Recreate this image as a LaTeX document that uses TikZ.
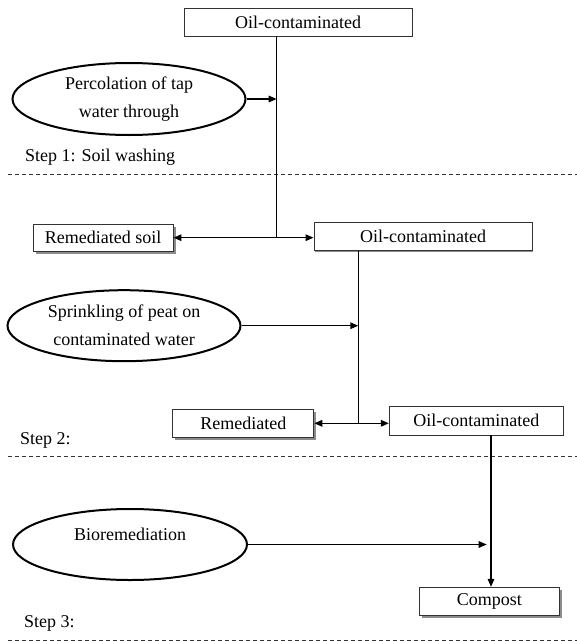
\documentclass[tikz,border=0pt]{standalone}
\usepackage{fontspec}
\setmainfont{Liberation Serif}
\usetikzlibrary{shapes.geometric,arrows.meta,shadows}
\begin{document}
\begin{tikzpicture}[x=1pt,y=-1pt,
  every node/.style={font=\fontsize{18}{28}\selectfont, inner sep=0pt},
  box/.style={draw=black!80, line width=0.9pt, fill=white, minimum height=#1},
  box/.default=28pt,
  sbox/.style={box, drop shadow={shadow xshift=2.5pt, shadow yshift=-2.5pt, fill=black!45, opacity=1}},
  lbox/.style={box, drop shadow={shadow xshift=1pt, shadow yshift=-1pt, fill=black!45, opacity=1}},
  oval/.style={ellipse, draw=black, line width=2pt, align=center, minimum width=233pt, minimum height=72pt},
  conn/.style={line width=1.5pt},
  arr/.style={conn, -{Triangle[length=8pt,width=6.5pt]}},
  sep/.style={dash pattern=on 4pt off 3pt, line width=0.8pt, black!80},
  lab/.style={anchor=west}]
\useasboundingbox (0,0) rectangle (577,642);
% Step 1
\node[lbox, minimum width=228pt, minimum height=27.5pt] (o1) at (298,22.3) {Oil-contaminated};
\node[oval] (e1) at (129,99) {Percolation of tap\\water through};
\coordinate (t1) at (276.7,36);
\coordinate (j2) at (276.7,237.7);
\node[lab] (s1) at (25,157) {Step 1: Soil washing};
\coordinate (d1a) at (8,174); \coordinate (d1b) at (577,174);
\draw[sep] (d1a) -- (d1b);
\draw[conn] (t1) -- (j2);
\draw[arr] (e1.east) -- (e1.east -| t1);
% Step 2
\node[sbox, minimum width=140pt, minimum height=27pt] (rs) at (103,237.5) {Remediated soil};
\node[lbox, minimum width=218pt] (o2) at (423,236.7) {Oil-contaminated};
\draw[arr] (j2) -- (rs.east |- j2);
\draw[arr] (j2) -- (o2.west |- j2);
\coordinate (t2) at (358.3,250.7);
\coordinate (j4) at (358.3,423.3);
\node[oval, minimum height=71pt] (e2) at (124,325.7) {Sprinkling of peat on\\contaminated water};
\draw[conn] (t2) -- (j4);
\draw[arr] (e2.east) -- (e2.east -| t2);
\node[sbox, minimum width=141pt] (rem) at (243.3,423.3) {Remediated};
\node[lbox, minimum width=174pt, minimum height=28.3pt] (o3) at (476.3,420.8) {Oil-contaminated};
\draw[arr] (j4) -- (rem.east |- j4);
\draw[arr] (j4) -- (o3.west |- j4);
\node[lab] (s2) at (20,440) {Step 2:};
\coordinate (d2a) at (8,456.5); \coordinate (d2b) at (577,456.5);
\draw[sep] (d2a) -- (d2b);
% Step 3
\node[oval, minimum width=234pt, minimum height=71pt] (e3) at (130,544.5) {};
\node (t3) at (130,534) {Bioremediation};
\node[sbox, minimum width=140pt, minimum height=27.7pt] (cp) at (489.3,601.2) {Compost};
\coordinate (t4) at (491,435);
\coordinate (j5) at (486.7,544.5);
\draw[arr] (t4) -- (t4 |- cp.north);
\draw[arr] (e3.east) -- (j5);
\node[lab] (s3) at (24,623) {Step 3:};
\coordinate (d3a) at (8,640); \coordinate (d3b) at (577,640);
\draw[sep] (d3a) -- (d3b);
\end{tikzpicture}
\end{document}
